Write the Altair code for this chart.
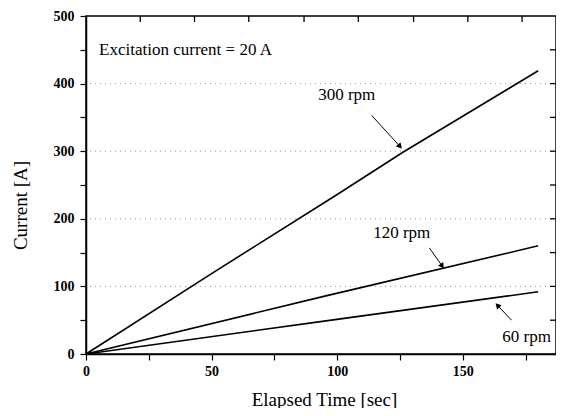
import altair as alt
import pandas as pd

# ---- data ----
t_300 = [0, 50, 100, 126, 180]
i_300 = [0, 119, 236, 298, 419]
t_120 = [0, 95.5, 180]
i_120 = [0, 86, 160]
t_60 = [0, 95.5, 180]
i_60 = [0, 49, 92]

x_ticks = [0, 25, 50, 75, 100, 125, 150, 175]
y_ticks = [0, 50, 100, 150, 200, 250, 300, 350, 400, 450, 500]
top_ticks = [21.6, 43.2, 64.8, 86.8, 108.4, 130.4, 152, 173.6]
right_ticks = [50, 100, 150, 200, 250, 300, 350, 400, 450]
grid_vals = [100, 200, 300, 400]

label_text = ["Excitation current = 20 A", "300 rpm", "120 rpm", "60 rpm"]
label_x = [5.2, 103.8, 125.7, 175.4]
label_y = [450, 383, 179, 25]

arrow_x1 = [113.7, 136.7, 169.4]
arrow_y1 = [353, 157, 50]
arrow_x2 = [125.0, 141.8, 163.8]
arrow_y2 = [307, 130, 72]
arrow_angle = [138, 145, 317]

FONT = "Liberation Serif"
W, H = 470, 338

rows = []
for name, ts, vs in [("300 rpm", t_300, i_300), ("120 rpm", t_120, i_120), ("60 rpm", t_60, i_60)]:
    for t, v in zip(ts, vs):
        rows.append({"rpm": name, "t": t, "i": v})
df = pd.DataFrame(rows)

labels_df = pd.DataFrame({"text": label_text, "x": label_x, "y": label_y})
arrows_df = pd.DataFrame({"x1": arrow_x1, "y1": arrow_y1, "x2": arrow_x2, "y2": arrow_y2, "angle": arrow_angle})
grid_df = pd.DataFrame({"v": grid_vals})
top_df = pd.DataFrame({"v": top_ticks})
right_df = pd.DataFrame({"v": right_ticks})

xscale = alt.Scale(domain=[0, 187.1], nice=False, zero=False)
yscale = alt.Scale(domain=[0, 500], nice=False, zero=False)

bottom_axis = alt.Axis(
    values=x_ticks,
    labelExpr="datum.value % 50 == 0 ? datum.label : ''",
    tickSize=6, tickColor="black", tickWidth=1.2,
    domainColor="black", domainWidth=1.5,
    labelFont=FONT, labelFontSize=14, labelFontWeight="bold", labelColor="black",
    labelPadding=4, labelFlush=False, labelOverlap=False,
    grid=False,
    title="Elapsed Time [sec]", titleFont=FONT, titleFontSize=19, titleFontWeight="normal",
    titleColor="black", titleX=238, titleY=51, titleAlign="center", titleBaseline="alphabetic",
)
left_axis = alt.Axis(
    values=y_ticks,
    labelExpr="datum.value % 100 == 0 ? datum.label : ''",
    tickSize=6, tickColor="black", tickWidth=1.2,
    domainColor="black", domainWidth=1.5,
    labelFont=FONT, labelFontSize=14, labelFontWeight="bold", labelColor="black",
    labelPadding=6, labelFlush=False, labelOverlap=False,
    grid=False,
    title="Current [A]", titleFont=FONT, titleFontSize=19, titleFontWeight="normal",
    titleColor="black", titleX=-66, titleY=189, titleAlign="center", titleBaseline="middle",
    titleAngle=270,
)

lines = alt.Chart(df).mark_line(color="black", strokeWidth=1.6).encode(
    x=alt.X("t:Q", scale=xscale, axis=bottom_axis),
    y=alt.Y("i:Q", scale=yscale, axis=left_axis),
    detail="rpm:N",
)

grid = alt.Chart(grid_df).mark_rule(color="#9a9a9a", strokeWidth=1, strokeDash=[1, 4]).encode(
    y=alt.Y("v:Q", scale=yscale, axis=None),
)

right_tk = alt.Chart(right_df).mark_rule(color="black", strokeWidth=1.3).encode(
    y=alt.Y("v:Q", scale=yscale, axis=None),
    x=alt.value(W - 6),
    x2=alt.value(W),
)
top_tk = alt.Chart(top_df).mark_rule(color="black", strokeWidth=1.3).encode(
    x=alt.X("v:Q", scale=xscale, axis=None),
    y=alt.value(0),
    y2=alt.value(6),
)

arrow_lines = alt.Chart(arrows_df).mark_rule(color="black", strokeWidth=1).encode(
    x=alt.X("x1:Q", scale=xscale, axis=None),
    y=alt.Y("y1:Q", scale=yscale, axis=None),
    x2="x2:Q",
    y2="y2:Q",
)
arrow_heads = alt.Chart(arrows_df).mark_point(
    shape="triangle-up", filled=True, color="black", size=40, opacity=1
).encode(
    x=alt.X("x2:Q", scale=xscale, axis=None),
    y=alt.Y("y2:Q", scale=yscale, axis=None),
    angle=alt.Angle("angle:Q", scale=None),
)

text_left = alt.Chart(labels_df.iloc[[0]]).mark_text(
    font=FONT, fontSize=17, color="black", baseline="middle", align="left"
).encode(
    x=alt.X("x:Q", scale=xscale, axis=None),
    y=alt.Y("y:Q", scale=yscale, axis=None),
    text="text:N",
)
text_center = alt.Chart(labels_df.iloc[1:]).mark_text(
    font=FONT, fontSize=17, color="black", baseline="middle", align="center"
).encode(
    x=alt.X("x:Q", scale=xscale, axis=None),
    y=alt.Y("y:Q", scale=yscale, axis=None),
    text="text:N",
)

chart = alt.layer(
    grid, lines, right_tk, top_tk, arrow_lines, arrow_heads, text_left, text_center
).resolve_axis(
    x="independent", y="independent"
).properties(
    width=W, height=H,
    autosize=alt.AutoSizeParams(type="none"),
    padding={"left": 78, "top": 8, "right": 0, "bottom": 54},
    background="white",
).configure_view(
    stroke="black", strokeWidth=1.5
)

chart.save("out.html", embed_options={"renderer": "svg", "actions": False})
